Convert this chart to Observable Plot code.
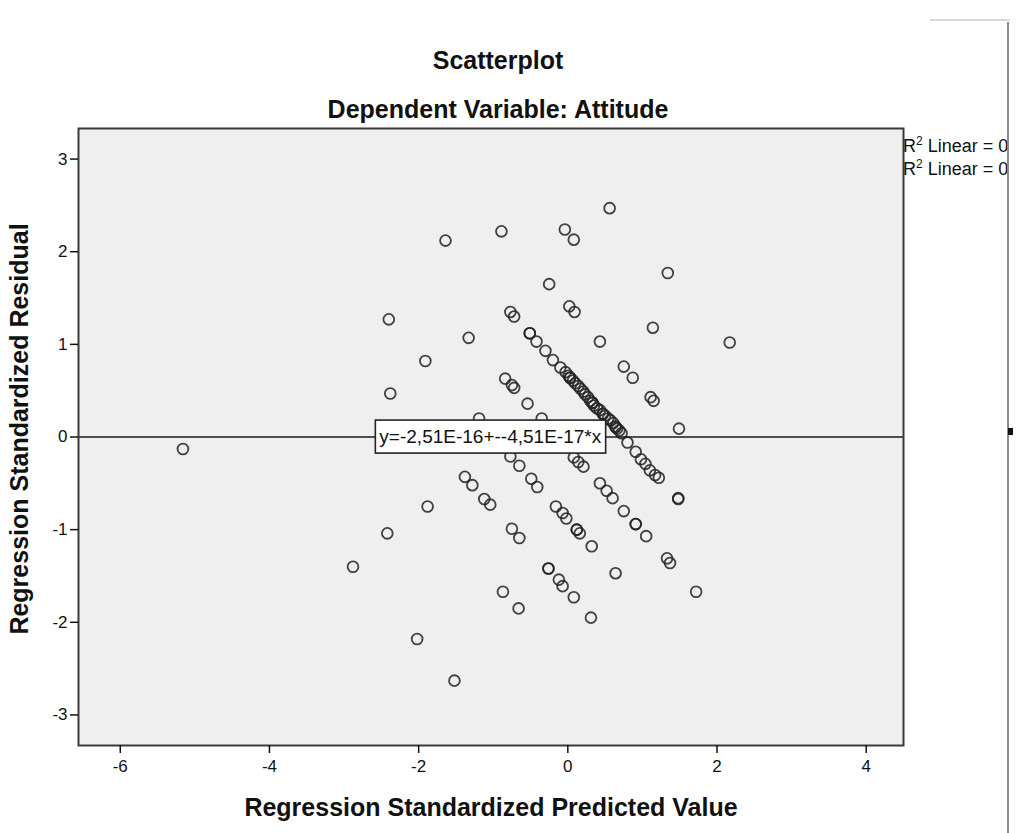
<!DOCTYPE html>
<html><head><meta charset="utf-8">
<script src="https://cdn.jsdelivr.net/npm/d3@7"></script>
<script src="https://cdn.jsdelivr.net/npm/@observablehq/plot@0.6"></script>
<style>
html,body{margin:0;padding:0;background:#fff;}
#chart{position:relative;width:1016px;height:833px;overflow:hidden;font-family:"Liberation Sans",Arial,sans-serif;color:#111;}
.title{position:absolute;left:0;width:996px;text-align:center;font-weight:bold;font-size:25px;line-height:30px;}
.legend{position:absolute;left:903px;font-size:18px;line-height:20px;white-space:nowrap;}
.legend sup{font-size:12px;vertical-align:7px;line-height:0;}
#plot{position:absolute;left:0;top:118px;}
#edge{position:absolute;left:1007px;top:22px;width:2px;height:811px;background:#8a8a8a;}
#edgemark{position:absolute;left:1008px;top:428px;width:5px;height:7px;background:#111;}
#topline{position:absolute;left:930px;top:19px;width:80px;height:2px;background:#d8d8d8;}
#plot g[aria-label="x-axis label"] text,#plot g[aria-label="y-axis label"] text{font-weight:bold !important;font-size:25px !important;}
#plot g[aria-label="y-axis label"]{translate:0px -8px;}
#plot g[aria-label="x-axis tick label"],#plot g[aria-label="y-axis tick label"],
#plot g[aria-label="x-axis tick label"] text,#plot g[aria-label="y-axis tick label"] text{font-size:17px !important;}
</style></head>
<body><div id="chart">
<div id="topline"></div>
<div class="title" style="top:45px">Scatterplot</div>
<div class="title" style="top:94px">Dependent Variable: Attitude</div>
<div id="plot"></div>
<div id="legend"></div>
<div id="edge"></div><div id="edgemark"></div>
</div>
<script>
// ---- data ----
const predicted = [
-5.16, -2.88, -2.42, -2.40, -2.38, -2.02, -1.91, -1.88, -1.64, -1.52,
-1.38, -1.28, -1.33, -1.19, -1.12, -1.04, -0.89, -0.87, -0.84, -0.77,
-0.72, -0.77, -0.65, -0.75, -0.72, -0.75, -0.65, -0.66, -0.54, -0.51,
-0.49, -0.41, -0.42, -0.35, -0.30, -0.25, -0.20, -0.26, -0.12, -0.07,
-0.16, -0.07, -0.02, -0.04, 0.08, 0.02, 0.09, 0.08, 0.14, 0.21,
0.08, 0.12, 0.16, 0.31, 0.32, 0.43, 0.43, 0.52, 0.60, 0.56,
0.64, 0.75, 0.87, 0.75, 0.91, 1.05, 0.80, 0.91, 0.98, 1.04,
1.10, 1.17, 1.22, 1.14, 1.11, 1.15, 1.33, 1.37, 1.34, 1.48,
1.48, 1.49, 1.72, 2.17,
-0.10, -0.03, 0.01, 0.03, 0.07, 0.10, 0.14, 0.17, 0.21, 0.23,
0.27, 0.30, 0.33, 0.35, 0.39, 0.43, 0.47, 0.50, 0.54, 0.57,
0.61, 0.64, 0.66, 0.69, 0.72,
-0.51, 0.12, 0.91, 0.03, 0.33, 0.47, 0.64, -0.26
];
const residual = [
-0.13, -1.40, -1.04, 1.27, 0.47, -2.18, 0.82, -0.75, 2.12, -2.63,
-0.43, -0.52, 1.07, 0.20, -0.67, -0.73, 2.22, -1.67, 0.63, 1.35,
1.30, -0.21, -0.31, 0.56, 0.53, -0.99, -1.09, -1.85, 0.36, 1.12,
-0.45, -0.54, 1.03, 0.20, 0.93, 1.65, 0.83, -1.42, -1.54, -1.61,
-0.75, -0.82, -0.88, 2.24, 2.13, 1.41, 1.35, -0.22, -0.27, -0.32,
-1.73, -1.00, -1.04, -1.95, -1.18, 1.03, -0.50, -0.58, -0.66, 2.47,
-1.47, 0.76, 0.64, -0.80, -0.94, -1.07, -0.06, -0.16, -0.24, -0.29,
-0.36, -0.41, -0.44, 1.18, 0.43, 0.39, -1.31, -1.36, 1.77, -0.67,
-0.66, 0.09, -1.67, 1.02,
0.75, 0.70, 0.66, 0.64, 0.61, 0.58, 0.55, 0.52, 0.49, 0.46,
0.43, 0.39, 0.37, 0.34, 0.31, 0.29, 0.25, 0.23, 0.20, 0.18,
0.15, 0.11, 0.09, 0.07, 0.04,
1.12, -1.00, -0.94, 0.64, 0.37, 0.25, 0.11, -1.42
];
const xTicks = [-6, -4, -2, 0, 2, 4];
const yTicks = [-3, -2, -1, 0, 1, 2, 3];
const fitLine = [0];
const fitLabel = ["y=-2,51E-16+--4,51E-17*x"];
const fitLabelX = [-1.04];
const legendLines = ["Linear = 0", "Linear = 0"];
const xTitle = "Regression Standardized Predicted Value";
const yTitle = "Regression Standardized Residual";

const data = predicted.map((x, i) => ({x, y: residual[i]}));
const labelData = fitLabel.map((t, i) => ({x: fitLabelX[i], y: fitLine[i], t}));

const chart = Plot.plot({
  width: 1016, height: 715,
  marginLeft: 78, marginRight: 113, marginTop: 10, marginBottom: 88,
  x: {domain: [-6.56, 4.50]},
  y: {domain: [-3.33, 3.33]},
  style: {fontFamily: '"Liberation Sans", Arial, sans-serif', fontSize: "16px", color: "#111", background: "transparent", overflow: "visible"},
  marks: [
    Plot.frame({fill: "#efefef", stroke: null}),
    Plot.dot(data, {x: "x", y: "y", r: 5.4, stroke: "#222", strokeWidth: 1.8, strokeOpacity: 0.85, fill: "none"}),
    Plot.ruleY(fitLine, {stroke: "#1a1a1a", strokeWidth: 1.6}),
    Plot.frame({stroke: "#3a3a3a", strokeWidth: 2}),
    Plot.axisX({ticks: xTicks, tickSize: 8, tickPadding: 6, fontSize: 17, tickFormat: d => String(d), strokeWidth: 1.5,
      label: xTitle, labelAnchor: "center", labelArrow: "none", labelOffset: 70}),
    Plot.axisY({ticks: yTicks, tickSize: 8, tickPadding: 3, fontSize: 17, tickFormat: d => String(d), strokeWidth: 1.5,
      label: yTitle, labelAnchor: "center", labelArrow: "none", labelOffset: 68}),
    Plot.text(labelData, {x: "x", y: "y", text: "t", fontSize: 19, fill: "#111"})
  ]
});
document.getElementById("plot").appendChild(chart);

// white box behind the fit-line label
const textGroups = chart.querySelectorAll('g[aria-label="text"]');
const tg = textGroups[textGroups.length - 1];
if (tg) {
  const t = tg.querySelector("text");
  const bb = t.getBBox();
  let tr = t.getAttribute("transform") || "";
  const rect = document.createElementNS("http://www.w3.org/2000/svg", "rect");
  rect.setAttribute("x", bb.x - 4);
  rect.setAttribute("y", bb.y + bb.height / 2 - 16.5);
  rect.setAttribute("width", bb.width + 8);
  rect.setAttribute("height", 33);
  rect.setAttribute("fill", "#fff");
  rect.setAttribute("stroke", "#222");
  rect.setAttribute("stroke-width", 1.6);
  if (tr) rect.setAttribute("transform", tr);
  t.parentNode.insertBefore(rect, t);
}

const leg = document.getElementById("legend");
legendLines.forEach((s, i) => {
  const d = document.createElement("div");
  d.className = "legend";
  d.style.top = (136 + i * 23) + "px";
  d.innerHTML = "R<sup>2</sup> " + s;
  leg.appendChild(d);
});
</script>
</body></html>
